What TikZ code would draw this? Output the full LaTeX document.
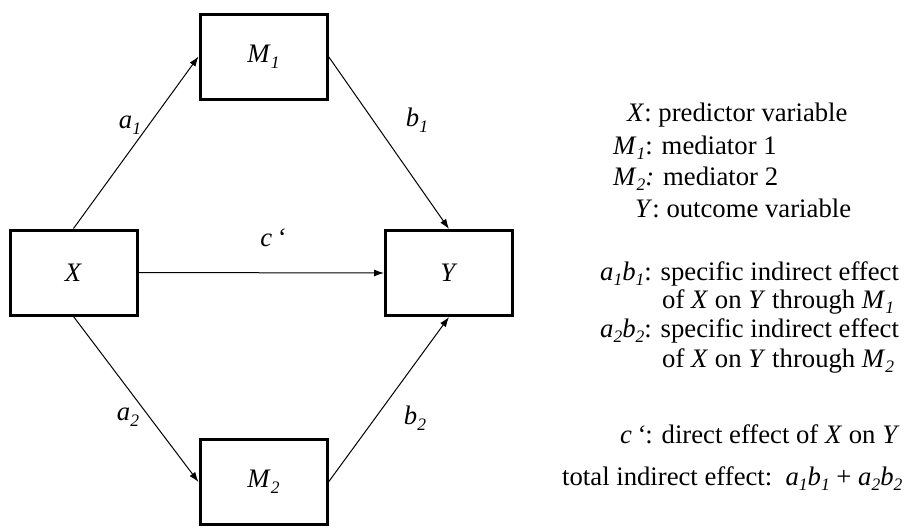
\documentclass[tikz,border=0pt]{standalone}
\usepackage{fontspec}
\setmainfont{Liberation Serif}
\usetikzlibrary{positioning}
\usetikzlibrary{arrows.meta}
\newcommand{\itsub}[2]{\textit{#1}\raisebox{-0.22em}{\fontsize{17.5}{17.5}\selectfont\itshape #2}}

\begin{document}
\begin{tikzpicture}[x=1pt, y=-1pt,
    font=\fontsize{26.7}{32}\selectfont,
    box style/.style={
        draw, line width=3pt,
        minimum width=127pt, minimum height=85pt,
        inner sep=0pt
    },
    path edge/.style={line width=1pt, -{Latex[length=10pt, width=7pt]}},
    legend/.style={anchor=base west, inner sep=0pt}
]
\useasboundingbox (0,0) rectangle (905,525);
				\node[box style] (m1) at (263.5,56.5) {\itsub{M}{1}};
				\node[box style] (x) at (73.5,272.5) {\textit{X}};
				\node[box style] (y) at (449,273) {\textit{Y}};
				\node[box style] (m2) at (263.5,482) {\itsub{M}{2}};

				\draw[path edge] (x.north) -- (m1.west);
				\draw[path edge] (m1.east) -- (y.north);
				\draw[path edge] (x.east) -- (y.west);
				\draw[path edge] (x.south) -- (m2.west);
				\draw[path edge] (m2.east) -- (y.south);

				\node (a1) at (130,125) {\itsub{a}{1}};
				\node (b1) at (417,120) {\itsub{b}{1}};
				\node (c) at (273,238) {\textit{c\,`}};
				\node (a2) at (128,417) {\itsub{a}{2}};
				\node (b2) at (415,418) {\itsub{b}{2}};

				% legend
				\node[legend] (leg-x) at (627,121) {\textit{X}: predictor variable};
				\node[legend] (leg-m1) at (613,154) {\itsub{M}{1}: mediator 1};
				\node[legend] (leg-m2) at (613,185) {\itsub{M}{2}\textit{:} mediator 2};
				\node[legend] (leg-y) at (635,217) {\textit{Y}: outcome variable};
				\node[legend] (leg-ab1) at (600,280) {\itsub{a}{1}\itsub{b}{1}: specific indirect effect};
				\node[legend] (leg-ab1b) at (662,308) {of \textit{X} on \textit{Y} through \itsub{M}{1}};
				\node[legend] (leg-ab2) at (600,337) {\itsub{a}{2}\itsub{b}{2}: specific indirect effect};
				\node[legend] (leg-ab2b) at (662,367) {of \textit{X} on \textit{Y} through \itsub{M}{2}};
				\node[legend] (leg-c) at (620,443) {\textit{c\,`}: direct effect of \textit{X} on \textit{Y}};
				\node[legend] (leg-tot) at (562,485) {total indirect effect:\ \ \itsub{a}{1}\itsub{b}{1} + \itsub{a}{2}\itsub{b}{2}};
			\end{tikzpicture}
\end{document}
